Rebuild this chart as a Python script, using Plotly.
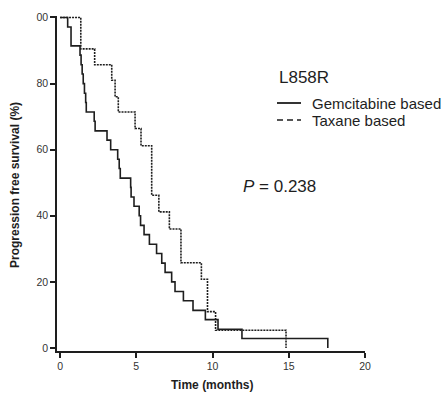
import plotly.graph_objects as go

# Kaplan-Meier step data: event times (months) and survival (%) after each step
gem_time = [0, 0.50, 0.72, 1.31, 1.38, 1.45, 1.52, 1.60, 1.68, 1.72, 2.24, 2.30,
            3.08, 3.32, 3.78, 3.88, 3.95, 4.63, 4.66, 4.85, 5.19, 5.28, 5.51, 5.86,
            6.33, 6.67, 6.89, 7.32, 7.54, 8.09, 8.72, 9.53, 10.36, 11.93, 17.56]
gem_surv = [100, 97.1, 91.4, 88.6, 85.7, 82.9, 80.0, 77.1, 74.3, 71.4, 68.6, 65.7,
            62.9, 60.0, 57.1, 54.3, 51.4, 48.6, 45.7, 42.9, 40.0, 37.1, 34.3, 31.4,
            28.6, 25.7, 22.9, 20.0, 17.1, 14.3, 11.4, 8.6, 5.7, 2.9, 0]

tax_time = [0, 1.36, 2.27, 3.39, 3.61, 3.82, 4.92, 5.31, 6.01, 6.48, 7.17, 7.93,
            9.27, 9.67, 10.20, 14.82]
tax_surv = [100, 90.5, 85.7, 81.0, 76.0, 71.4, 66.4, 61.2, 46.2, 41.2, 36.0, 25.8,
            20.8, 11.0, 5.4, 0]

x_ticks = [0, 5, 10, 15, 20]
y_ticks = [0, 20, 40, 60, 80, 100]
y_tick_text = ["0", "20", "40", "60", "80", "00"]

series_names = ["Gemcitabine based", "Taxane based"]
group_label = "L858R"
p_label = "<i>P</i> = 0.238"

INK = "#1e1e1e"
FONT = "Liberation Sans, Arial, sans-serif"

W, H = 442, 393
L, R, T, B = 57, 77, 16, 42


def px(xp):
    return (xp - L) / (W - L - R)


def py(yp):
    return (H - B - yp) / (H - T - B)


fig = go.Figure()
fig.add_trace(go.Scatter(x=gem_time, y=gem_surv, mode="lines", line_shape="hv",
                         line=dict(color=INK, width=1.6), name=series_names[0],
                         showlegend=False, hoverinfo="skip"))
fig.add_trace(go.Scatter(x=tax_time, y=tax_surv, mode="lines", line_shape="hv",
                         line=dict(color=INK, width=1.6, dash="2px,1px"),
                         name=series_names[1], showlegend=False, hoverinfo="skip"))

axis_common = dict(showline=True, linewidth=1.5, linecolor=INK, ticks="outside",
                   ticklen=5, tickwidth=1.5, tickcolor=INK, showgrid=False,
                   zeroline=False, tickfont=dict(family=FONT, size=10.5, color="#333"))

fig.update_xaxes(range=[-0.2, 20], tickvals=x_ticks, **axis_common)
fig.update_yaxes(range=[-0.9, 100.45], tickvals=y_ticks, ticktext=y_tick_text,
                 **axis_common)

annotations = [
    dict(text="<b>Time (months)</b>", x=px(212), y=py(385), xanchor="center",
         yanchor="middle", font=dict(size=12, family=FONT, color=INK)),
    dict(text="<b>Progression free survival (%)</b>", x=px(15), y=py(185),
         textangle=-90, xanchor="center", yanchor="middle",
         font=dict(size=12, family=FONT, color=INK)),
    dict(text=group_label, x=px(277), y=py(77), xanchor="left", yanchor="middle",
         font=dict(size=17, family=FONT, color=INK)),
    dict(text=series_names[0], x=px(310), y=py(103), xanchor="left",
         yanchor="middle", font=dict(size=15, family=FONT, color=INK)),
    dict(text=series_names[1], x=px(310), y=py(120), xanchor="left",
         yanchor="middle", font=dict(size=15, family=FONT, color=INK)),
    dict(text=p_label, x=px(241), y=py(186), xanchor="left", yanchor="middle",
         font=dict(size=17, family=FONT, color=INK)),
]
for a in annotations:
    a.update(xref="paper", yref="paper", showarrow=False)

shapes = [
    dict(type="line", xref="paper", yref="paper", x0=px(277), x1=px(301),
         y0=py(103), y1=py(103), line=dict(color=INK, width=1.8)),
    dict(type="line", xref="paper", yref="paper", x0=px(277), x1=px(301),
         y0=py(120), y1=py(120), line=dict(color=INK, width=1.5, dash="6px,4px")),
]

fig.update_layout(width=W, height=H, margin=dict(l=L, r=R, t=T, b=B),
                  paper_bgcolor="white", plot_bgcolor="white",
                  annotations=annotations, shapes=shapes,
                  font=dict(family=FONT, color=INK))

fig.write_html("out.html")
